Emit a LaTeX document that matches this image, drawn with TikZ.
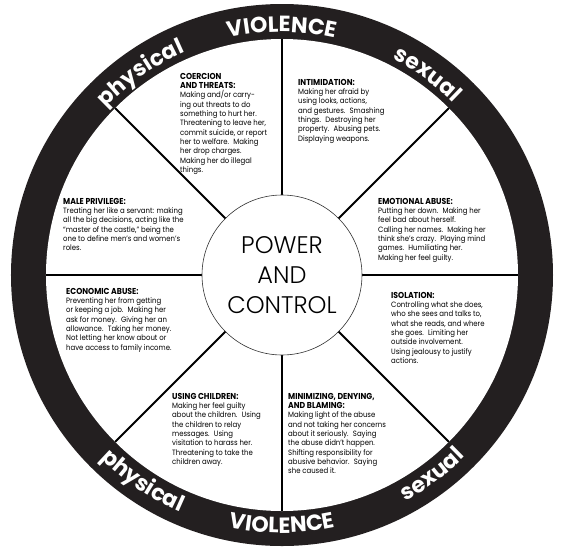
\documentclass[tikz,border=0pt]{standalone}
\usepackage{fontspec}
\setmainfont{Poppins}
\newfontfamily\bodyfont{Poppins}[FakeStretch=0.9, Ligatures=TeX]
\IfFontExistsTF{Poppins Light}{\newfontfamily\thinfont{Poppins Light}}{\newfontfamily\thinfont{Poppins}}
\usepackage{tikz}
\usetikzlibrary{decorations.text}
\definecolor{ringblack}{RGB}{35,31,32}
\newcommand{\hd}[1]{{\bfseries\fontsize{8.6}{9}\selectfont #1}}
\newcommand{\ringfont}{\bfseries\fontsize{22}{24}\selectfont}
\newcommand{\toplabel}[2]{\path[decorate, decoration={text along path, text align=center, text color=white, text={|\ringfont|#2}}] ({#1+30}:243) arc[start angle={#1+30}, end angle={#1-30}, radius=243];}
\newcommand{\botlabel}[2]{\path[decorate, decoration={text along path, text align=center, text color=white, text={|\ringfont|#2}}] ({#1-30}:258) arc[start angle={#1-30}, end angle={#1+30}, radius=258];}

\begin{document}
\begin{tikzpicture}[x=1pt, y=1pt,
  tactic/.style={anchor=north west, align=left, inner sep=0pt, font=\bodyfont\fontsize{7.7}{9.3}\selectfont},
  spoke/.style={line width=2pt}]
\useasboundingbox (-282,-275) rectangle (283,275);
\fill[ringblack] (0,0) circle[radius=271];
\fill[white] (0,0) circle[radius=236];
\foreach \a in {0,45,...,315}
  \draw[spoke] (\a:80) -- (\a:236);
\draw[line width=0.6pt, black!80] (0,0) circle[radius=80];
\node[align=center, font=\thinfont\fontsize{24}{30}\selectfont] (hub) at (0,0) {POWER\\AND\\CONTROL};

\toplabel{90}{VIOLENCE}
\toplabel{125}{physical}
\toplabel{54}{sexual}
\botlabel{-90}{VIOLENCE}
\botlabel{-124}{physical}
\botlabel{-53}{sexual}

\node[tactic] (coercion) at (-102,202) {\hd{COERCION}\\\hd{AND THREATS:}\\Making and/or carry-\\ing out threats to do\\something to hurt her.\\Threatening to leave her,\\commit suicide, or report\\her to welfare.~ Making\\her drop charges.\\Making her do illegal\\things.};
\node[tactic] (intimidation) at (16,196) {\hd{INTIMIDATION:}\\Making her afraid by\\using looks, actions,\\and gestures.~ Smashing\\things.~ Destroying her\\property.~ Abusing pets.\\Displaying weapons.};
\node[tactic] (emotional) at (96,77) {\hd{EMOTIONAL ABUSE:}\\Putting her down.~ Making her\\feel bad about herself.\\Calling her names.~ Making her\\think she’s crazy.~ Playing mind\\games.~ Humiliating her.\\Making her feel guilty.};
\node[tactic] (privilege) at (-219,77) {\hd{MALE PRIVILEGE:}\\Treating her like a servant: making\\all the big decisions, acting like the\\“master of the castle,” being the\\one to define men’s and women’s\\roles.};
\node[tactic] (economic) at (-216,-13) {\hd{ECONOMIC ABUSE:}\\Preventing her from getting\\or keeping a job.~ Making her\\ask for money.~ Giving her an\\allowance.~ Taking her money.\\Not letting her know about or\\have access to family income.};
\node[tactic] (isolation) at (109,-17) {\hd{ISOLATION:}\\Controlling what she does,\\who she sees and talks to,\\what she reads, and where\\she goes.~ Limiting her\\outside involvement.\\Using jealousy to justify\\actions.};
\node[tactic] (children) at (-110,-118) {\hd{USING CHILDREN:}\\Making her feel guilty\\about the children.~ Using\\the children to relay\\messages.~ Using\\visitation to harass her.\\Threatening to take the\\children away.};
\node[tactic] (minimizing) at (6,-118) {\hd{MINIMIZING, DENYING,}\\\hd{AND BLAMING:}\\Making light of the abuse\\and not taking her concerns\\about it seriously.~ Saying\\the abuse didn’t happen.\\Shifting responsibility for\\abusive behavior.~ Saying\\she caused it.};
\end{tikzpicture}
\end{document}
